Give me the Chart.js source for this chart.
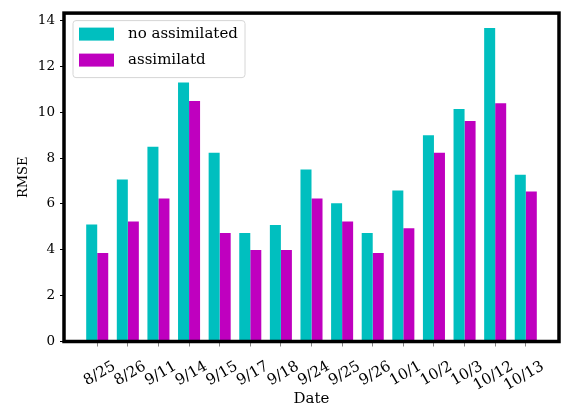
<!DOCTYPE html>
<html>
<head>
<meta charset="utf-8">
<script src="https://cdn.jsdelivr.net/npm/chart.js@4.4.1/dist/chart.umd.min.js"></script>
<style>
    html, body { margin: 0; padding: 0; background: #fff; }
    #wrap { width: 562px; height: 408px; }
</style>
</head>
<body>
<div id="wrap"><canvas id="rmseCanvas" width="562" height="408"></canvas></div>
<script>
// data
var dates = ["8/25", "8/26", "9/11", "9/14", "9/15", "9/17", "9/18", "9/24", "9/25", "9/26", "10/1", "10/2", "10/3", "10/12", "10/13"];
var noAssimilated = [5.1, 7.07, 8.5, 11.3, 8.24, 4.73, 5.08, 7.5, 6.03, 4.73, 6.59, 9.0, 10.14, 13.68, 7.28];
var assimilated = [3.86, 5.24, 6.24, 10.49, 4.73, 3.99, 3.99, 6.24, 5.24, 3.86, 4.94, 8.24, 9.62, 10.4, 6.55];
var yTicks = [0, 2, 4, 6, 8, 10, 12, 14];

var serif = "'DejaVu Serif', 'Liberation Serif', serif";
var colors = {
    cyan: 'rgb(0, 191, 191)',
    magenta: 'rgb(191, 0, 191)'
};

function toPoints(values) {
    return values.map(function (v, i) {
        return { x: i, y: v };
    });
}

// 外框 + 圖例
var framePlugin = {
    id: 'frame',
    afterDraw: function (chart) {
        var ctx = chart.ctx;
        var area = chart.chartArea;

        // legend box
        var bx = area.left + 9, by = area.top + 7.5, bw = 172, bh = 57;
        ctx.save();
        ctx.beginPath();
        ctx.roundRect(bx, by, bw, bh, 3);
        ctx.fillStyle = 'rgba(255,255,255,0.8)';
        ctx.fill();
        ctx.strokeStyle = '#d6d6d6';
        ctx.lineWidth = 1;
        ctx.stroke();

        ctx.font = '15px ' + serif;
        ctx.textBaseline = 'middle';
        ctx.textAlign = 'left';
        chart.data.datasets.forEach(function (ds, i) {
            var y = area.top + 14.5 + i * 26;
            ctx.fillStyle = ds.backgroundColor;
            ctx.fillRect(area.left + 15, y, 35, 13);
            ctx.fillStyle = '#000';
            ctx.fillText(ds.label, area.left + 64, y + 6.5);
        });

        ctx.strokeStyle = '#000';
        ctx.lineWidth = 3.5;
        ctx.strokeRect(area.left, area.top, area.right - area.left, area.bottom - area.top);
        ctx.restore();
    }
};

var barCtx = document.getElementById('rmseCanvas').getContext('2d');
window.myBar = new Chart(barCtx, {
    type: 'bar',
    data: {
        datasets: [
            {
                label: 'no assimilated',
                data: toPoints(noAssimilated),
                backgroundColor: colors.cyan,
                borderWidth: 0
            },
            {
                label: 'assimilatd',
                data: toPoints(assimilated),
                backgroundColor: colors.magenta,
                borderWidth: 0
            }
        ]
    },
    options: {
        responsive: false,
        animation: false,
        layout: { padding: { top: 10.5, right: 3, left: 0, bottom: 0 } },
        categoryPercentage: 0.72,
        barPercentage: 1.0,
        plugins: {
            legend: { display: false },
            tooltip: { enabled: false }
        },
        scales: {
            x: {
                type: 'linear',
                offset: false,
                min: -1.085,
                max: 15.085,
                afterBuildTicks: function (scale) {
                    scale.ticks = dates.map(function (d, i) { return { value: i }; });
                },
                afterFit: function (scale) { scale.height = 66.5; },
                grid: {
                    offset: false,
                    drawOnChartArea: false,
                    drawTicks: true,
                    tickLength: 5,
                    color: '#888'
                },
                border: { display: false },
                ticks: {
                    autoSkip: false,
                    minRotation: 30,
                    maxRotation: 30,
                    labelOffset: 17,
                    padding: 11,
                    color: '#000',
                    font: { family: serif, size: 15 },
                    callback: function (value) { return dates[value]; }
                },
                title: {
                    display: true,
                    text: 'Date',
                    color: '#000',
                    padding: { top: 0, bottom: 0 },
                    font: { family: serif, size: 15 }
                }
            },
            y: {
                min: 0,
                max: 14.33,
                afterBuildTicks: function (scale) {
                    scale.ticks = yTicks.map(function (v) { return { value: v }; });
                },
                afterFit: function (scale) { scale.width = 64; },
                grid: {
                    drawOnChartArea: false,
                    drawTicks: true,
                    tickLength: 4,
                    color: '#000'
                },
                border: { display: false },
                ticks: {
                    padding: 5,
                    color: '#000',
                    font: { family: serif, size: 13.5 }
                },
                title: {
                    display: true,
                    text: 'RMSE',
                    color: '#000',
                    padding: { top: 16, bottom: 0 },
                    font: { family: serif, size: 13 }
                }
            }
        }
    },
    plugins: [framePlugin]
});
</script>
</body>
</html>
